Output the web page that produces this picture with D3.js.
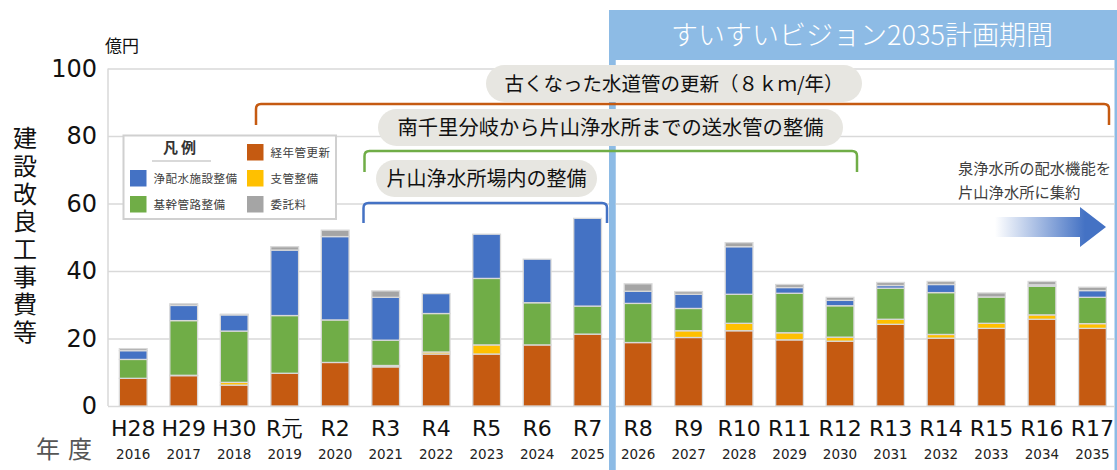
<!DOCTYPE html>
<html><head><meta charset="utf-8">
<script src="https://cdn.jsdelivr.net/npm/d3@7"></script>
<style>
html,body{margin:0;padding:0;background:#fff;}
svg{display:block;}
</style>
</head><body>
<svg id="chart" width="1117" height="470"></svg>
<script>
// ---- data ----
const fiscalLabels = ["H28","H29","H30","R元","R2","R3","R4","R5","R6","R7","R8","R9","R10","R11","R12","R13","R14","R15","R16","R17"];
const years = ["2016","2017","2018","2019","2020","2021","2022","2023","2024","2025","2026","2027","2028","2029","2030","2031","2032","2033","2034","2035"];
const renewal = [8.2,9.0,6.2,9.7,12.9,11.6,15.4,15.4,18.1,21.3,18.8,20.3,22.3,19.6,19.2,24.2,20.1,23.0,25.7,23.0]; // 経年管更新
const branch  = [0,0.1,0.8,0,0,0.4,0.6,2.7,0,0,0,2.0,2.2,2.1,1.2,1.5,1.1,1.5,1.3,1.4];                    // 支管整備
const trunk   = [5.6,16.2,15.2,17.1,12.6,7.5,11.4,19.7,12.5,8.3,11.6,6.6,8.6,11.7,9.3,9.2,12.4,7.8,8.5,7.8]; // 基幹管路整備
const plant   = [2.6,4.5,4.8,19.4,24.7,12.7,5.9,13.1,12.9,26.0,3.6,4.2,14.1,1.7,1.6,0.8,2.4,0,0.4,2.0];      // 浄配水施設整備
const consign = [0.6,0.5,0.2,1.0,1.9,1.9,0,0,0,0,2.2,0.8,1.2,0.9,0.9,0.9,0.9,1.2,1.0,1.0];               // 委託料
const yTicks = [0,20,40,60,80,100];
const seriesNames = ["経年管更新","支管整備","基幹管路整備","浄配水施設整備","委託料"];
const seriesColors = ["#c55a11","#ffc000","#70ad47","#4472c4","#a5a5a5"];

// ---- build table ----
const seriesArrays = [renewal, branch, trunk, plant, consign];
const rows = fiscalLabels.map((lab,i)=>{
  const r = {label: lab};
  seriesNames.forEach((n,k)=> r[n] = seriesArrays[k][i]);
  return r;
});

const svg = d3.select("#chart");
const JP = "'Noto Sans CJK JP','Noto Sans',sans-serif";
const LAT = "'DejaVu Sans','Noto Sans',sans-serif";

const x0 = 108, x1 = 1117.7, y0 = 406, yTop = 68.5, gridRight = 1115;
const x = d3.scaleBand().domain(fiscalLabels).range([x0, x1]).paddingInner(0.45).paddingOuter(0.225);
const y = d3.scaleLinear().domain([0,100]).range([y0, yTop]);

// header band (plan period)
const hdrColor = "#8dbbe5";
svg.append("rect").attr("x",609).attr("y",10).attr("width",508).attr("height",50).attr("fill",hdrColor);
svg.append("rect").attr("x",609).attr("y",10).attr("width",6.5).attr("height",460).attr("fill",hdrColor);
svg.append("rect").attr("x",1114.5).attr("y",10).attr("width",2.5).attr("height",460).attr("fill",hdrColor);
svg.append("text").attr("x",862).attr("y",45).attr("text-anchor","middle")
  .attr("font-family",JP).attr("font-size",27).attr("font-weight",300).attr("fill","#fff")
  .text("すいすいビジョン2035計画期間");

// grid + y axis
const yAxis = d3.axisLeft(y).tickValues(yTicks).tickSize(-(gridRight - x0)).tickPadding(11).tickFormat(d3.format("d"));
const ga = svg.append("g").attr("transform",`translate(${x0},0)`).call(yAxis);
ga.select(".domain").remove();
ga.selectAll(".tick line").attr("stroke","#d9d9d9").attr("stroke-width",1.5);
ga.selectAll(".tick text").attr("font-family",LAT).attr("font-size",24).attr("fill","#111");
svg.append("line").attr("x1",x0).attr("x2",x0).attr("y1",yTop).attr("y2",y0).attr("stroke","#d9d9d9").attr("stroke-width",1.5);

// redraw plan-period line over grid
svg.append("rect").attr("x",609).attr("y",60).attr("width",6.5).attr("height",410).attr("fill",hdrColor);

// bars
const stack = d3.stack().keys(seriesNames)(rows);
svg.append("g").selectAll("g").data(stack).join("g")
  .attr("fill",(d,i)=>seriesColors[i])
  .selectAll("rect").data(d=>d.filter(s=>s[1]-s[0]>0)).join("rect")
  .attr("x",d=>x(d.data.label))
  .attr("width",x.bandwidth())
  .attr("y",d=>y(d[1]))
  .attr("height",d=>y(d[0])-y(d[1]))
  .attr("stroke","#d9d9d9").attr("stroke-width",1.3);

// x labels
const gx = svg.append("g");
gx.selectAll("text.lab").data(fiscalLabels).join("text").attr("class","lab")
  .attr("x",d=>x(d)+x.bandwidth()/2).attr("y",436).attr("text-anchor","middle")
  .attr("font-family",LAT).attr("font-size",22).attr("fill","#111").text(d=>d);
gx.selectAll("text.yr").data(years).join("text").attr("class","yr")
  .attr("x",(d,i)=>x(fiscalLabels[i])+x.bandwidth()/2).attr("y",459).attr("text-anchor","middle")
  .attr("font-family",LAT).attr("font-size",13.5).attr("fill","#222").text(d=>d);

// axis titles
svg.append("text").attr("x",105).attr("y",52).attr("font-family",JP).attr("font-size",17).attr("fill","#111").text("億円");
svg.append("text").attr("x",36).attr("y",458).attr("font-family",JP).attr("font-size",24).attr("fill","#555").attr("letter-spacing",8).text("年度");
svg.append("text").attr("x",25).attr("y",126)
  .attr("writing-mode","tb").style("writing-mode","vertical-rl")
  .attr("letter-spacing",3.7)
  .attr("font-family",JP).attr("font-size",24).attr("fill","#111").text("建設改良工事費等");

// legend
const lg = svg.append("g");
lg.append("rect").attr("x",123.5).attr("y",135.5).attr("width",212.5).attr("height",83.5)
  .attr("fill","#fff").attr("stroke","#d0d0d0").attr("stroke-width",2);
lg.append("text").attr("x",181).attr("y",153).attr("text-anchor","middle").attr("font-family",JP)
  .attr("font-size",15).attr("font-weight","bold").attr("fill","#333").attr("letter-spacing",3).text("凡例");
lg.append("line").attr("x1",152).attr("x2",211).attr("y1",161).attr("y2",161).attr("stroke","#d9d9d9").attr("stroke-width",2);
const legendItems = [
  {name:"浄配水施設整備", col:3, cx:130, cy:170},
  {name:"基幹管路整備", col:2, cx:130, cy:196},
  {name:"経年管更新", col:0, cx:247, cy:144},
  {name:"支管整備", col:1, cx:247, cy:170},
  {name:"委託料", col:4, cx:247, cy:196}
];
legendItems.forEach(it=>{
  lg.append("rect").attr("x",it.cx).attr("y",it.cy).attr("width",16.5).attr("height",16.5).attr("fill",seriesColors[it.col]);
  lg.append("text").attr("x",it.cx+23.5).attr("y",it.cy+8.5).attr("dy","0.36em").attr("font-family",JP)
    .attr("font-size",11.5).attr("fill","#404040").attr("letter-spacing",0.5).text(it.name);
});

// brackets
function bracket(xa, xb, yt, yb, color){
  const r = 5;
  svg.append("path").attr("d",`M${xa},${yb} L${xa},${yt+r} Q${xa},${yt} ${xa+r},${yt} L${xb-r},${yt} Q${xb},${yt} ${xb},${yt+r} L${xb},${yb}`)
    .attr("fill","none").attr("stroke",color).attr("stroke-width",2.5);
}
bracket(256, 1109, 104, 125, "#c55a11");
bracket(364.5, 857, 151, 172, "#70ad47");
bracket(363.5, 607, 203, 223, "#4472c4");

// pills
function pill(xa, xb, yt, yb, txt, fs){
  const h = yb-yt;
  svg.append("rect").attr("x",xa).attr("y",yt).attr("width",xb-xa).attr("height",h).attr("rx",h/2).attr("fill","#e7e6e1");
  svg.append("text").attr("x",(xa+xb)/2).attr("y",(yt+yb)/2).attr("dy","0.36em").attr("text-anchor","middle")
    .attr("font-family",JP).attr("font-size",fs).attr("fill","#111").text(txt);
}
pill(486, 862, 65, 102, "古くなった水道管の更新（８ｋｍ/年）", 19.5);
pill(378, 843, 109, 146, "南千里分岐から片山浄水所までの送水管の整備", 20.3);
pill(376, 597, 160, 197, "片山浄水所場内の整備", 20);

// right note
svg.append("text").attr("x",958).attr("y",168).attr("dy","0.36em").attr("font-family",JP).attr("font-size",15.3).attr("fill","#404040").text("泉浄水所の配水機能を");
svg.append("text").attr("x",958).attr("y",192).attr("dy","0.36em").attr("font-family",JP).attr("font-size",15.3).attr("fill","#404040").text("片山浄水所に集約");

// arrow
const defs = svg.append("defs");
const grad = defs.append("linearGradient").attr("id","arrGrad").attr("gradientUnits","userSpaceOnUse")
  .attr("x1",995).attr("x2",1085).attr("y1",0).attr("y2",0);
grad.append("stop").attr("offset","0%").attr("stop-color","#4472c4").attr("stop-opacity",0);
grad.append("stop").attr("offset","100%").attr("stop-color","#4472c4").attr("stop-opacity",1);
svg.append("path").attr("d","M995,217 L1080,217 L1080,207 L1106,227 L1080,247 L1080,237 L995,237 Z").attr("fill","url(#arrGrad)");
</script>
</body></html>
